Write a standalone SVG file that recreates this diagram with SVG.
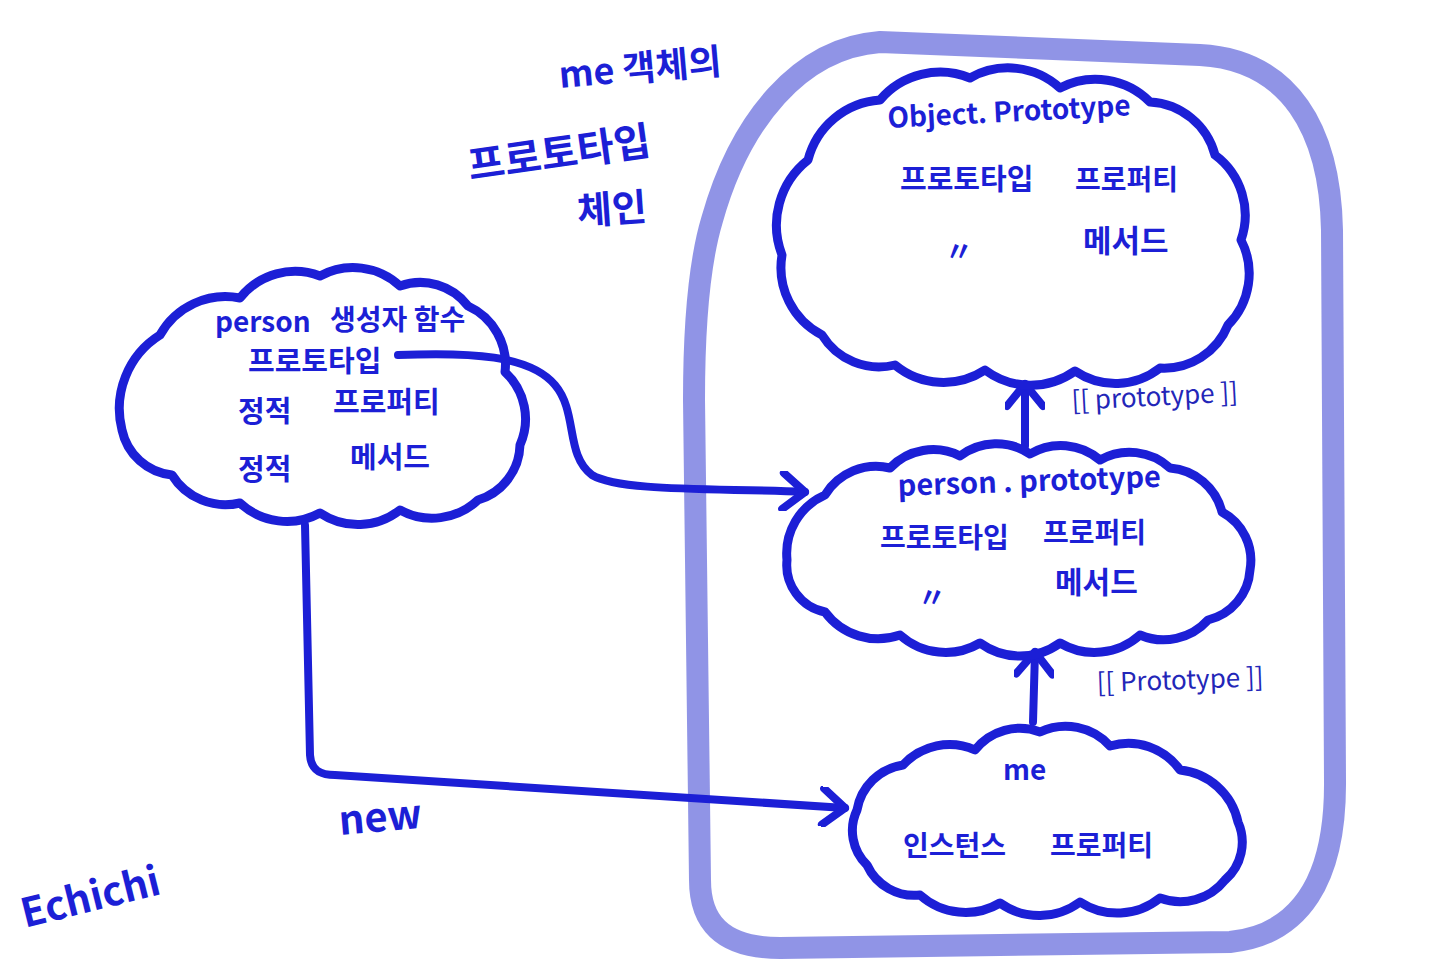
<svg xmlns="http://www.w3.org/2000/svg" width="1440" height="960" viewBox="0 0 1440 960">
<style>
.cloud{fill:none;stroke:#1c1fd6;stroke-width:9;stroke-linecap:round;stroke-linejoin:round}
.conn{fill:none;stroke:#1c1fd6;stroke-width:8;stroke-linecap:round;stroke-linejoin:round}
.t{font-family:"Noto Sans CJK KR","Noto Sans",sans-serif;font-weight:700;fill:#1c1fd6}
.thin{font-family:"Noto Sans CJK KR","Noto Sans",sans-serif;font-weight:400;fill:#2326b8}
</style>
<defs>
<marker id="arr" markerUnits="userSpaceOnUse" markerWidth="40" markerHeight="40" refX="0" refY="0" viewBox="-30 -20 40 40" orient="auto">
<path d="M -22,-18 L 0,0 L -22,18" fill="none" stroke="#1c1fd6" stroke-width="8" stroke-linecap="round" stroke-linejoin="round"/>
</marker>
</defs>
<rect width="1440" height="960" fill="#ffffff"/>
<g id="chain-outline">
<path d="M 880,42 L 1200,55 C 1290,60 1330,130 1332,230 L 1335,780 C 1336,880 1300,935 1230,942 L 780,948 C 720,948 700,920 700,880 L 694,400 C 694,320 700,260 712,220 C 740,120 800,48 880,42 Z" fill="none" stroke="#7d81e2" stroke-opacity="0.85" stroke-width="22"/>
</g>
<g id="chain-title">
<text class="t" x="560" y="88" font-size="36" transform="rotate(-5 560 88)">me 객체의</text>
<text class="t" x="470" y="180" font-size="40" transform="rotate(-8 470 180)">프로토타입</text>
<text class="t" x="578" y="225" font-size="38" transform="rotate(-4 578 225)">체인</text>
</g>
<g id="connectors">
<path class="conn" d="M 398,355 C 470,352 530,355 555,385 C 578,412 565,455 592,475 C 620,492 720,488 805,492" marker-end="url(#arr)"/>
<path class="conn" d="M 305,525 L 310,755 C 311,770 320,775 335,775 L 845,808" marker-end="url(#arr)"/>
<path class="conn" d="M 1033,722 L 1035,652" marker-end="url(#arr)"/>
<path class="conn" d="M 1025,446 L 1025,384" marker-end="url(#arr)"/>
<text class="thin" x="1072" y="410" font-size="26" transform="rotate(-3 1072 410)">[[ prototype ]]</text>
<text class="thin" x="1097" y="692" font-size="26" transform="rotate(-2 1097 692)">[[ Prototype ]]</text>
<text class="t" x="340" y="835" font-size="40" transform="rotate(-5 340 835)">new</text>
</g>
<g id="object-prototype">
<path class="cloud" d="M 782,255 A 83 83 0 0 1 808,160 A 80 80 0 0 1 880,100 A 79 79 0 0 1 970,78 A 77 77 0 0 1 1060,88 A 77 77 0 0 1 1150,102 A 71 71 0 0 1 1215,155 A 75 75 0 0 1 1241,240 A 73 73 0 0 1 1228,325 A 69 69 0 0 1 1160,368 A 72 72 0 0 1 1075,371 A 76 76 0 0 1 985,370 A 76 76 0 0 1 895,365 A 67 67 0 0 1 822,335 A 76 76 0 0 1 782,255 Z"/>
<text class="t" x="888" y="128" font-size="28" transform="rotate(-3 888 128)">Object. Prototype</text>
<text class="t" x="900" y="190" font-size="29">프로토타입</text>
<text class="t" x="1075" y="190" font-size="28">프로퍼티</text>
<text class="t" x="945" y="262" font-size="28">〃</text>
<text class="t" x="1083" y="252" font-size="31">메서드</text>
</g>
<g id="person-prototype">
<path class="cloud" d="M 787,560 A 64 64 0 0 1 825,495 A 60 60 0 0 1 890,468 A 60 60 0 0 1 960,456 A 60 60 0 0 1 1030,454 A 60 60 0 0 1 1100,460 A 60 60 0 0 1 1170,468 A 58 58 0 0 1 1222,512 A 55 55 0 0 1 1250,570 A 55 55 0 0 1 1208,620 A 60 60 0 0 1 1140,635 A 68 68 0 0 1 1060,643 A 68 68 0 0 1 980,643 A 68 68 0 0 1 900,635 A 66 66 0 0 1 825,612 A 48 48 0 0 1 787,560 Z"/>
<text class="t" x="898" y="496" font-size="29" transform="rotate(-2 898 496)">person . prototype</text>
<text class="t" x="880" y="548" font-size="28">프로토타입</text>
<text class="t" x="1043" y="543" font-size="28">프로퍼티</text>
<text class="t" x="918" y="608" font-size="28">〃</text>
<text class="t" x="1055" y="593" font-size="30">메서드</text>
</g>
<g id="me">
<path class="cloud" d="M 857,810 A 55 55 0 0 1 903,765 A 63 63 0 0 1 975,750 A 57 57 0 0 1 1040,732 A 60 60 0 0 1 1110,746 A 63 63 0 0 1 1180,770 A 66 66 0 0 1 1238,822 A 50 50 0 0 1 1225,880 A 57 57 0 0 1 1160,898 A 68 68 0 0 1 1080,902 A 68 68 0 0 1 1000,903 A 68 68 0 0 1 920,895 A 52 52 0 0 1 867,865 A 48 48 0 0 1 857,810 Z"/>
<text class="t" x="1003" y="780" font-size="28">me</text>
<text class="t" x="903" y="856" font-size="28">인스턴스</text>
<text class="t" x="1050" y="856" font-size="28">프로퍼티</text>
</g>
<g id="person-constructor">
<path class="cloud" d="M 122,430 A 87 87 0 0 1 160,335 A 75 75 0 0 1 240,298 A 70 70 0 0 1 320,276 A 69 69 0 0 1 400,286 A 60 60 0 0 1 468,306 A 64 64 0 0 1 505,372 A 64 64 0 0 1 520,445 A 59 59 0 0 1 478,500 A 67 67 0 0 1 400,510 A 68 68 0 0 1 320,513 A 69 69 0 0 1 240,503 A 63 63 0 0 1 172,475 A 57 57 0 0 1 122,430 Z"/>
<text class="t" x="215" y="332" font-size="28">person</text>
<text class="t" x="330" y="330" font-size="28">생성자 함수</text>
<text class="t" x="248" y="372" font-size="29">프로토타입</text>
<text class="t" x="238" y="422" font-size="29">정적</text>
<text class="t" x="333" y="413" font-size="29">프로퍼티</text>
<text class="t" x="238" y="480" font-size="29">정적</text>
<text class="t" x="350" y="468" font-size="29">메서드</text>
</g>
<g id="signature">
<text class="t" x="25" y="928" font-size="40" transform="rotate(-14 25 928)">Echichi</text>
</g>
</svg>
